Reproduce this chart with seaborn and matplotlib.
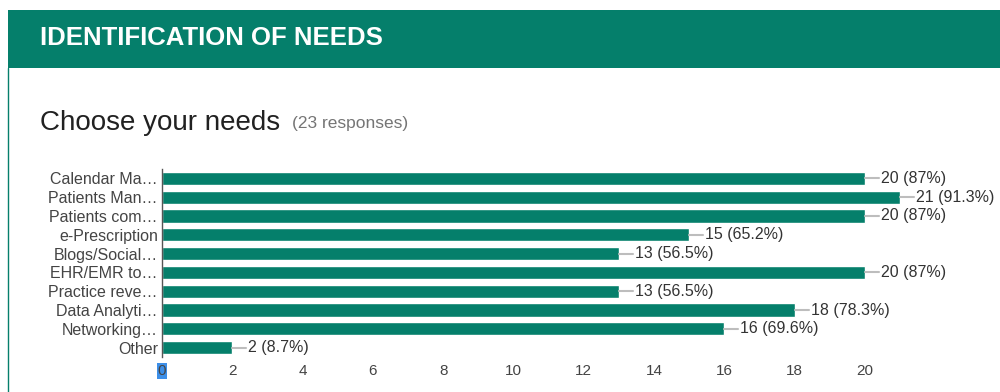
import matplotlib
matplotlib.use("Agg")
import matplotlib.pyplot as plt
import seaborn as sns
import pandas as pd
from matplotlib.patches import Rectangle
from matplotlib.lines import Line2D

# данные с графика
needs = ["Calendar Ma…", "Patients Man…", "Patients com…", "e-Prescription",
         "Blogs/Social…", "EHR/EMR to…", "Practice reve…", "Data Analyti…",
         "Networking…", "Other"]
counts = [20, 21, 20, 15, 13, 20, 13, 18, 16, 2]
percents = ["87%", "91.3%", "87%", "65.2%", "56.5%", "87%", "56.5%", "78.3%", "69.6%", "8.7%"]
xticks = [0, 2, 4, 6, 8, 10, 12, 14, 16, 18, 20]

GREEN = "#057f6b"

sns.set_theme(style="white")
plt.rcParams["font.family"] = ["Liberation Sans", "DejaVu Sans"]

df = pd.DataFrame({"need": needs, "count": counts})

fig = plt.figure(figsize=(10, 3.92), dpi=100)

# шапка
fig.patches.append(Rectangle((0.008, 0.827), 0.992, 0.147, transform=fig.transFigure,
                             facecolor=GREEN, edgecolor="none"))
fig.text(0.040, 0.902, "IDENTIFICATION OF NEEDS", color="white", fontsize=18.5,
         fontweight="bold", va="center", ha="left")
fig.lines.append(Line2D([0.008, 0.008], [0.0, 0.827], transform=fig.transFigure,
                        color=GREEN, lw=1))

fig.text(0.040, 0.685, "Choose your needs", fontsize=20, color="#212121",
         va="center", ha="left")
fig.text(0.292, 0.685, "(23 responses)", fontsize=12.5, color="#757575",
         va="center", ha="left")

ax = fig.add_axes([0.162, 0.089, 0.838, 0.480])
sns.barplot(data=df, x="count", y="need", orient="h", color=GREEN,
            saturation=1, width=0.7, ax=ax)

for i, (c, p) in enumerate(zip(counts, percents)):
    ax.plot([c, c + 0.4], [i, i], color="#bdbdbd", lw=1.5, zorder=1)
    ax.text(c + 0.45, i, f"{c} ({p})", va="center", ha="left",
            fontsize=11.5, color="#333333")

ax.set_xlim(0, 23.84)
ax.set_ylim(9.5, -0.5)
ax.set_xticks(xticks)
ax.set_xlabel("")
ax.set_ylabel("")
ax.tick_params(axis="both", length=0, labelsize=11.5, colors="#444444")
ax.tick_params(axis="y", pad=3)
ax.tick_params(axis="x", labelsize=11, pad=5)
for s in ["top", "right", "bottom"]:
    ax.spines[s].set_visible(False)
ax.spines["left"].set_color("#555555")
ax.spines["left"].set_linewidth(1)

# выделенный ноль как на скриншоте
lbl0 = ax.get_xticklabels()[0]
lbl0.set_bbox(dict(facecolor="#3d8fe8", edgecolor="none", pad=0.5))

fig.savefig("out.png", dpi=100)
plt.close(fig)
